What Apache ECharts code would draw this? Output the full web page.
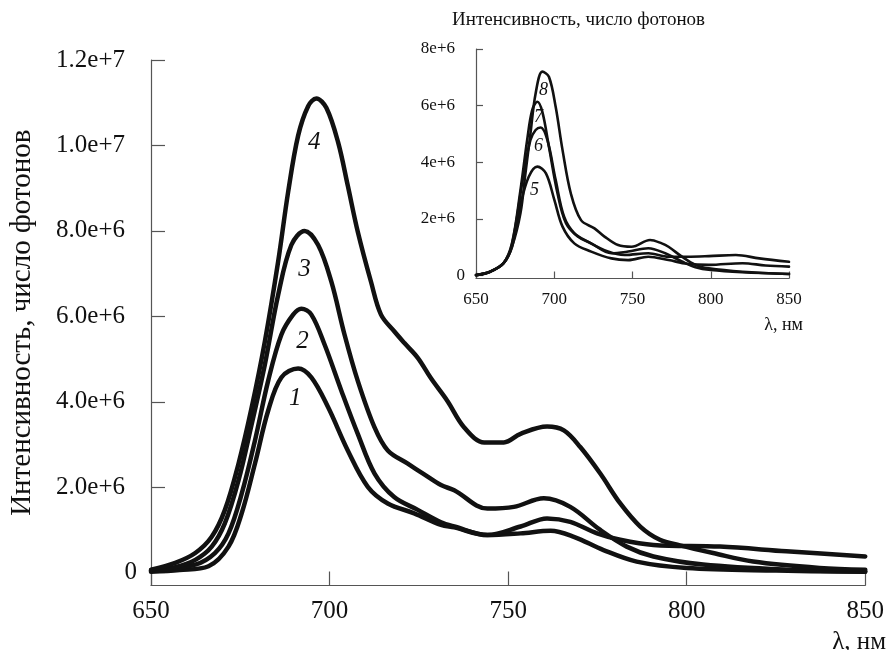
<!DOCTYPE html>
<html>
<head>
<meta charset="utf-8">
<script src="https://cdn.jsdelivr.net/npm/echarts@6/dist/echarts.min.js"></script>
<style>
html,body{margin:0;padding:0;background:#fff;}
#chart{width:887px;height:650px;}
</style>
</head>
<body>
<div id="chart"></div>
<script>
// ---- data (wavelength nm, intensity in millions of photons) ----
const xTicks = [650, 700, 750, 800, 850];
const mainTicks = [0, 2, 4, 6, 8, 10, 12];
const mainTickLabels = ['0', '2.0e+6', '4.0e+6', '6.0e+6', '8.0e+6', '1.0e+7', '1.2e+7'];
const insetTicks = [0, 2, 4, 6, 8];
const insetTickLabels = ['0', '2e+6', '4e+6', '6e+6', '8e+6'];

const curve1 = [[650,0.02],[658,0.06],[666.1,0.15],[671.7,0.61],[675.4,1.39],[679.1,2.55],[682.8,3.79],[686.5,4.57],[691.2,4.78],[694.9,4.57],[699.6,3.87],[705.1,2.86],[710.7,2.01],[716.3,1.62],[723.7,1.39],[731.2,1.12],[734.9,1.06],[744.2,0.88],[753.5,0.92],[761.9,0.98],[768.4,0.84],[776.7,0.53],[786,0.26],[800,0.11],[825,0.05],[850,0.02]];
const curve2 = [[650,0.04],[662.4,0.19],[667.9,0.46],[671.7,0.92],[675.4,1.85],[679.1,3.09],[682.8,4.49],[686.5,5.57],[689.8,6.04],[692.1,6.18],[694.9,6.04],[698.6,5.34],[703.3,4.26],[707.9,3.25],[712.6,2.32],[718.1,1.77],[724.7,1.47],[731.2,1.18],[734.9,1.08],[744.2,0.88],[753.5,1.08],[760.9,1.27],[767.4,1.19],[774.9,0.92],[781.4,0.77],[790.7,0.65],[809.3,0.61],[827.9,0.5],[850,0.38]];
const curve3 = [[650,0.05],[656.8,0.13],[662.4,0.3],[667,0.61],[670.7,1.16],[674.5,2.16],[678.2,3.48],[681.9,4.88],[685.6,6.5],[689.3,7.67],[693,8.0],[696.8,7.67],[700.5,6.81],[704.2,5.57],[707.9,4.49],[712.6,3.4],[716.3,2.86],[721.9,2.55],[726.5,2.3],[731.2,2.05],[734.9,1.93],[744.2,1.5],[751.6,1.54],[760,1.74],[767.4,1.54],[775.8,1.0],[783.2,0.61],[790.7,0.38],[804.6,0.19],[827.9,0.07],[850,0.03]];
const curve4 = [[650,0.07],[656.8,0.23],[662.4,0.46],[667,0.84],[670.7,1.47],[674.5,2.55],[678.2,3.87],[681.9,5.42],[685.6,7.28],[688.4,8.91],[691.2,10.23],[694,10.92],[696.3,11.1],[699.1,10.88],[702.4,10.07],[705.1,9.06],[707.9,7.98],[711.6,6.81],[714.4,6.04],[718.1,5.65],[720.9,5.38],[724.7,5.03],[728.4,4.55],[733,4.02],[737.7,3.4],[743.3,3.05],[748.8,3.05],[753.5,3.25],[760.9,3.42],[765.6,3.33],[770.2,2.94],[775.8,2.32],[781.4,1.62],[787,1.08],[792.5,0.77],[798.1,0.64],[807.4,0.46],[818.6,0.26],[837.2,0.11],[850,0.07]];

const curve5 = [[650,0.02],[659,0.14],[667.6,0.44],[673,1.02],[678.4,2.5],[683.7,3.49],[689.2,3.85],[694.7,3.61],[700.1,2.67],[705.3,1.73],[712.8,1.14],[723.6,0.85],[736.5,0.61],[747.2,0.55],[760.1,0.67],[773,0.55],[785,0.42],[798.8,0.38],[820.3,0.44],[835,0.36],[850,0.32]];
const curve6 = [[650,0.02],[659,0.14],[667.6,0.44],[673,1.1],[680.5,3.61],[684.8,4.79],[688.1,5.14],[691.3,5.23],[695.6,4.79],[700.9,3.38],[706.3,2.08],[712.8,1.5],[721.4,1.2],[734.3,0.85],[745,0.73],[760.1,0.79],[773,0.67],[785,0.67],[798.8,0.69],[816,0.73],[831,0.61],[850,0.49]];
const curve7 = [[650,0.02],[659,0.14],[667.6,0.44],[673,1.15],[678.4,3.02],[682.7,4.79],[685.9,5.84],[689.2,6.14],[692.4,5.78],[696.6,4.55],[702.1,2.9],[707.5,1.85],[715,1.38],[723.6,1.14],[736.5,0.79],[747.2,0.85],[760.1,0.97],[770.9,0.79],[781.6,0.5],[790.2,0.3],[800,0.2],[820,0.12],[850,0.06]];
const curve8 = [[650,0.02],[659,0.14],[667.6,0.44],[673,1.02],[678.4,2.2],[681.6,3.61],[684.8,5.02],[688.1,6.43],[692.4,7.2],[696.6,7.02],[700.9,5.96],[705.3,4.43],[710.6,2.9],[717.1,1.96],[725.7,1.67],[732.1,1.38],[740.8,1.08],[749.4,1.02],[761.2,1.26],[768.7,1.14],[773,1.02],[781.6,0.67],[790.2,0.38],[798.8,0.26],[820.3,0.14],[850,0.06]];

const mainLabels = [['1',690.4,4.07],['2',692.4,5.42],['3',693,7.09],['4',695.7,10.07]];
const insetLabels = [['5',687.4,3.02],['6',690,4.57],['7',690,5.6],['8',693.2,6.55]];

// ---- chart ----
const SERIF = '"Liberation Serif", "DejaVu Serif", serif';
const AX = '#555';
const chart = echarts.init(document.getElementById('chart'), null, {renderer: 'canvas'});

function xAxisDef(gi, fs, tickLen, margin) {
  return {
    gridIndex: gi, type: 'value', min: 650, max: 850, interval: 50,
    axisLine: {show: true, onZero: false, lineStyle: {color: AX, width: 1.2}},
    axisTick: {show: true, inside: true, length: tickLen, customValues: xTicks, lineStyle: {color: AX, width: 1.2}},
    axisLabel: {show: true, margin: margin, customValues: xTicks, color: '#111', fontFamily: SERIF, fontSize: fs},
    splitLine: {show: false}
  };
}
function yAxisDef(gi, min, max, ticks, labels, fs, tickLen, margin, pad) {
  return {
    gridIndex: gi, type: 'value', min: min, max: max,
    axisLine: {show: true, onZero: false, lineStyle: {color: AX, width: 1.2}},
    axisTick: {show: true, inside: true, length: tickLen, customValues: ticks, lineStyle: {color: AX, width: 1.2}},
    axisLabel: {
      show: true, margin: margin, customValues: ticks, color: '#111', fontFamily: SERIF, fontSize: fs,
      formatter: function (v) {
        const i = ticks.indexOf(v);
        const t = i >= 0 ? labels[i] : '';
        return v === 0 ? t : '{p|' + t + '}';
      },
      rich: {p: {fontFamily: SERIF, fontSize: fs, color: '#111', padding: [0, pad, 0, 0]}}
    },
    splitLine: {show: false}
  };
}

function lineSeries(data, xi, yi, w) {
  return {
    type: 'line', xAxisIndex: xi, yAxisIndex: yi, data: data, smooth: 0.35,
    showSymbol: false, symbol: 'none', silent: true,
    lineStyle: {color: '#111', width: w, cap: 'round', join: 'round'}
  };
}
function labelSeries(list, xi, yi, fs) {
  return {
    type: 'scatter', xAxisIndex: xi, yAxisIndex: yi, symbolSize: 1, silent: true,
    itemStyle: {color: 'rgba(0,0,0,0)'},
    data: list.map(l => ({value: [l[1], l[2]], name: l[0]})),
    label: {show: true, position: 'inside', formatter: p => p.name, color: '#111',
      fontFamily: SERIF, fontStyle: 'italic', fontSize: fs, opacity: 1},
    labelLayout: {hideOverlap: false},
    z: 5
  };
}

const yAxisMain = yAxisDef(0, -0.3, 12, mainTicks, mainTickLabels, 25, 14, 14, 12);
yAxisMain.name = 'Интенсивность, число фотонов';
yAxisMain.nameLocation = 'middle';
yAxisMain.nameGap = 114;
yAxisMain.nameTextStyle = {fontFamily: SERIF, fontSize: 29, color: '#111'};

const option = {
  backgroundColor: '#fff',
  animation: false,
  grid: [
    {left: 149, top: 60, width: 717, height: 525.5, containLabel: false},
    {left: 476, top: 49, width: 313, height: 229.5, containLabel: false}
  ],
  xAxis: [xAxisDef(0, 25, 14, 13), xAxisDef(1, 17, 7, 13)],
  yAxis: [yAxisMain, yAxisDef(1, -0.1, 8, insetTicks, insetTickLabels, 17, 7, 11, 10)],
  graphic: [
    {type: 'text', right: 1, top: 630, style: {text: 'λ, нм', font: '25px ' + SERIF, fill: '#111'}},
    {type: 'text', left: 452, top: 11, style: {text: 'Интенсивность, число фотонов', font: '19px ' + SERIF, fill: '#111'}},
    {type: 'text', right: 84, top: 316, style: {text: 'λ, нм', font: '18px ' + SERIF, fill: '#111'}}
  ],
  series: [
    lineSeries(curve1, 0, 0, 4.5),
    lineSeries(curve2, 0, 0, 4.5),
    lineSeries(curve3, 0, 0, 4.5),
    lineSeries(curve4, 0, 0, 4.5),
    labelSeries(mainLabels, 0, 0, 25),
    lineSeries(curve5, 1, 1, 2.6),
    lineSeries(curve6, 1, 1, 2.6),
    lineSeries(curve7, 1, 1, 2.6),
    lineSeries(curve8, 1, 1, 2.6),
    labelSeries(insetLabels, 1, 1, 18)
  ]
};
chart.setOption(option);
</script>
</body>
</html>
